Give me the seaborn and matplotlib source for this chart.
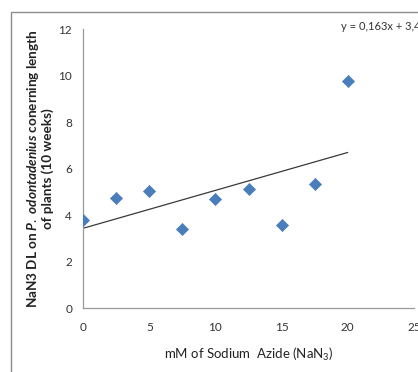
import seaborn as sns
import matplotlib.pyplot as plt
import numpy as np
import pandas as pd
from matplotlib.patches import Rectangle

# concentration of sodium azide (mM) and plant length
dose = [0, 2.5, 5, 7.5, 10, 12.5, 15, 17.5, 20]
length = [3.78, 4.74, 5.05, 3.38, 4.67, 5.13, 3.57, 5.35, 9.76]

# trend line from the chart (y = 0,163x + 3,43)
slope = 0.163
intercept = 3.43
trend_x = [0, 20]

x_ticks = [0, 5, 10, 15, 20, 25]
y_ticks = [0, 2, 4, 6, 8, 10, 12]

df = pd.DataFrame({"dose": dose, "length": length})
trend = pd.DataFrame({"x": trend_x, "y": [slope * v + intercept for v in trend_x]})

sns.set_style("white")
plt.rcParams["font.family"] = ["Lato", "DejaVu Sans"]
plt.rcParams["mathtext.fontset"] = "custom"
plt.rcParams["mathtext.it"] = "Lato:italic:bold"
plt.rcParams["mathtext.rm"] = "Lato"

fig = plt.figure(figsize=(4.18, 3.72), dpi=100)
ax = fig.add_axes([0.199, 0.172, 0.791, 0.75])

# outer chart border
fig.patches.append(Rectangle((11 / 418, -0.1), 1.2, 1 - 12 / 372 + 0.1,
                             transform=fig.transFigure, fill=False,
                             edgecolor="#8c8c8c", linewidth=1.0))

sns.lineplot(data=trend, x="x", y="y", ax=ax, color="#3a3a3a", linewidth=0.9)
sns.scatterplot(data=df, x="dose", y="length", ax=ax, marker="D", s=38,
                color="#4a7ebb", edgecolor="#4a7ebb", zorder=3)

ax.set_xlim(0, 25)
ax.set_ylim(0, 12)
ax.set_xticks(x_ticks)
ax.set_yticks(y_ticks)
ax.tick_params(axis="both", labelsize=8.5, colors="#333333", length=3,
               width=0.8, direction="out", color="#999999")
ax.tick_params(axis="x", pad=7)
ax.tick_params(axis="y", pad=5)
for s in ["top", "right"]:
    ax.spines[s].set_visible(False)
for s in ["left", "bottom"]:
    ax.spines[s].set_color("#999999")
    ax.spines[s].set_linewidth(0.9)

ax.set_xlabel("mM of Sodium  Azide (NaN$_3$)", fontsize=9.5, color="#222222", labelpad=9)
ax.set_ylabel("NaN3 DL on $\\it{P.\\ odontadenius}$ conerning length\nof plants (10 weeks)",
              fontsize=9.7, fontweight="bold", color="#222222",
              linespacing=1.05)
ax.yaxis.set_label_coords(-0.088, 0.5)

fig.text(341 / 418, 1 - 27 / 372, "y = 0,163x + 3,43", fontsize=8,
         color="#333333", va="center", ha="left")

fig.savefig("out.png", dpi=100, facecolor="white")
